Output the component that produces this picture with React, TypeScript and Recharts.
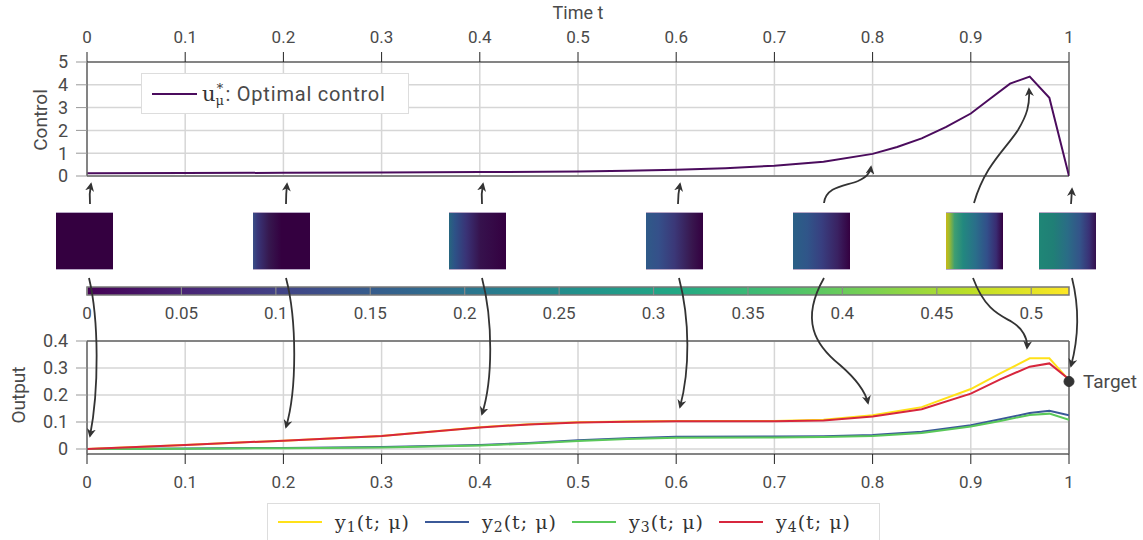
import {
    LineChart,
    Line,
    XAxis,
    YAxis,
    CartesianGrid,
    ReferenceLine,
    ReferenceDot,
    ReferenceArea,
} from 'recharts';

// top panel: optimal control u*(t)
const controlT = [0, 0.1, 0.2, 0.3, 0.4, 0.5, 0.55, 0.6, 0.65, 0.7, 0.75, 0.8, 0.825, 0.85, 0.875, 0.9, 0.92, 0.94, 0.96, 0.98, 1];
const controlU = [0.12, 0.13, 0.14, 0.15, 0.17, 0.2, 0.23, 0.27, 0.34, 0.45, 0.63, 0.97, 1.27, 1.65, 2.15, 2.74, 3.4, 4.05, 4.36, 3.43, 0];

// bottom panel: outputs y1..y4
const outputT = [0, 0.1, 0.2, 0.3, 0.4, 0.45, 0.5, 0.55, 0.6, 0.7, 0.75, 0.8, 0.85, 0.9, 0.93, 0.96, 0.98, 1];
const y1 = [0, 0.015, 0.031, 0.048, 0.081, 0.092, 0.099, 0.102, 0.104, 0.104, 0.108, 0.125, 0.155, 0.222, 0.28, 0.336, 0.336, 0.255];
const y2 = [0, 0.002, 0.004, 0.007, 0.015, 0.022, 0.032, 0.04, 0.045, 0.046, 0.047, 0.052, 0.064, 0.088, 0.11, 0.133, 0.142, 0.125];
const y3 = [0, 0.001, 0.003, 0.006, 0.013, 0.02, 0.03, 0.037, 0.042, 0.043, 0.044, 0.048, 0.059, 0.083, 0.104, 0.126, 0.131, 0.108];
const y4 = [0, 0.015, 0.031, 0.048, 0.08, 0.091, 0.098, 0.101, 0.103, 0.103, 0.106, 0.12, 0.147, 0.205, 0.258, 0.305, 0.317, 0.258];
const target = { t: 1, value: 0.25 };

const timeTicks = [0, 0.1, 0.2, 0.3, 0.4, 0.5, 0.6, 0.7, 0.8, 0.9, 1];
const controlTicks = [0, 1, 2, 3, 4, 5];
const outputTicks = [0, 0.1, 0.2, 0.3, 0.4];
const colorTicks = [0, 0.05, 0.1, 0.15, 0.2, 0.25, 0.3, 0.35, 0.4, 0.45, 0.5];
const colorMax = 0.52;

const viridis = ['#440154', '#482475', '#414487', '#355f8d', '#2a788e', '#21918c', '#22a884', '#44bf70', '#7ad151', '#bddf26', '#fde725'];

// snapshots of the state at selected times (left -> right shading)
const snapshots = [
    { t: 0, left: 56, bg: '#340040' },
    { t: 0.2, left: 253, bg: 'linear-gradient(90deg, #3a4f88 0%, #393578 8%, #36184f 28%, #340040 50%, #340040 100%)' },
    { t: 0.4, left: 449, bg: 'linear-gradient(90deg, #27667f 0%, #2d5287 10%, #393376 30%, #36124d 55%, #340040 100%)' },
    { t: 0.6, left: 646, bg: 'linear-gradient(90deg, #2f5a88 0%, #35508a 22%, #3b3878 50%, #38174f 80%, #340040 100%)' },
    { t: 0.8, left: 793, bg: 'linear-gradient(90deg, #2a6086 0%, #305589 25%, #383f80 50%, #3a2262 78%, #340040 100%)' },
    { t: 0.96, left: 946, bg: 'linear-gradient(90deg, #c8b81a 0%, #a4bb2c 5%, #3e9e72 15%, #22887f 30%, #2a6e8a 52%, #324f8a 72%, #392c72 88%, #340040 100%)' },
    { t: 1, left: 1039, bg: 'linear-gradient(90deg, #1f8676 0%, #207f76 25%, #2a6c86 50%, #345389 72%, #393176 88%, #340f4c 100%)' },
];

const upArrows = [
    'M90,204 Q89,194 91,184',
    'M286,204 Q286,194 287,184',
    'M482,204 Q481,194 483,184',
    'M678,204 Q678,194 680,184',
    'M824,203 C826,186 846,186 858,181 C866,177 870,174 871,167',
    'M974,203 C985,165 1005,150 1018,130 C1027,115 1030,105 1029,89',
    'M1071,204 L1072,189',
];
const downArrows = [
    'M89,278 C99,320 99,390 90,436',
    'M286,278 C297,320 297,390 286,427',
    'M482,278 C493,320 493,380 482,414',
    'M679,278 C690,320 690,370 680,407',
    'M824,278 C800,320 815,345 840,365 C855,378 865,390 868,403',
    'M973,278 C985,310 1000,315 1012,322 C1022,328 1028,338 1027,348',
    'M1072,278 C1080,310 1078,340 1071,366',
];

const controlData = controlT.map((t, i) => ({ t, u: controlU[i] }));
const outputData = outputT.map((t, i) => ({ t, y1: y1[i], y2: y2[i], y3: y3[i], y4: y4[i] }));
const colorData = [{ c: 0, v: 0 }, { c: colorMax, v: 1 }];

const sans = 'Roboto, "Noto Sans", sans-serif';
const serif = '"DejaVu Serif", "Liberation Serif", serif';
const fmt = (v: number) => String(+v.toFixed(2));
const tickStyle = { fontSize: 17, fill: '#4a4a4a', fontFamily: sans };
const axisLine = { stroke: '#666', strokeWidth: 1.5 };
const gridColor = '#d6d6d6';

const series = [
    { key: 'y1', color: '#ffe119', sub: '1' },
    { key: 'y2', color: '#3b5998', sub: '2' },
    { key: 'y3', color: '#5ac85a', sub: '3' },
    { key: 'y4', color: '#d7263d', sub: '4' },
];

function MathY({ sub }: { sub: string }) {
    return (
        <span style={{ fontFamily: serif, fontSize: 19, color: '#333', letterSpacing: 1 }}>
            y<span style={{ fontSize: 14, position: 'relative', top: 3 }}>{sub}</span>(t; μ)
        </span>
    );
}

export default function App() {
    return (
        <div style={{ position: 'absolute', left: 0, top: 0, width: 1143, height: 540, overflow: 'hidden', background: '#fff', fontFamily: sans }}>
            {/* titles */}
            <div style={{ position: 'absolute', left: 518, top: 2, width: 120, textAlign: 'center', fontSize: 18, color: '#4a4a4a' }}>Time t</div>
            <div style={{ position: 'absolute', left: 40, top: 120, transform: 'translate(-50%, -50%) rotate(-90deg)', fontSize: 19, color: '#4a4a4a' }}>Control</div>
            <div style={{ position: 'absolute', left: 18, top: 395, transform: 'translate(-50%, -50%) rotate(-90deg)', fontSize: 19, color: '#4a4a4a' }}>Output</div>

            <div style={{ position: 'absolute', left: 0, top: 0 }}>
                <LineChart width={1143} height={190} data={controlData} margin={{ top: 22, right: 74, bottom: 14, left: 32 }}>
                    <CartesianGrid stroke={gridColor} strokeWidth={1.5} />
                    <XAxis
                        dataKey="t"
                        type="number"
                        domain={[0, 1]}
                        ticks={timeTicks}
                        interval={0}
                        orientation="top"
                        height={40}
                        tickSize={10}
                        tickMargin={9}
                        tick={tickStyle}
                        tickLine={{ stroke: '#222' }}
                        axisLine={axisLine}
                        tickFormatter={fmt}
                        allowDataOverflow
                    />
                    <YAxis
                        type="number"
                        domain={[0, 5]}
                        ticks={controlTicks}
                        interval={0}
                        width={55}
                        tickSize={11}
                        tickMargin={8}
                        tick={{ ...tickStyle, fontSize: 18 }}
                        tickLine={{ stroke: '#999' }}
                        axisLine={axisLine}
                        allowDataOverflow
                    />
                    <ReferenceLine y={0} stroke="#666" strokeWidth={1.5} />
                    <ReferenceLine x={1} stroke="#666" strokeWidth={1.5} />
                    <Line type="linear" dataKey="u" stroke="#4b0c5d" strokeWidth={2} dot={false} isAnimationActive={false} />
                </LineChart>
            </div>

            {/* control legend */}
            <div style={{ position: 'absolute', left: 141, top: 73, width: 266, height: 39, border: '1.5px solid #ddd', background: '#fff', display: 'flex', alignItems: 'center' }}>
                <div style={{ width: 45, height: 2, background: '#4b0c5d', marginLeft: 10, marginRight: 5 }} />
                <span style={{ fontFamily: serif, fontSize: 21, color: '#333' }}>u</span>
                <span style={{ display: 'inline-flex', flexDirection: 'column', fontFamily: serif, fontSize: 13, lineHeight: '10px', color: '#333', marginRight: 1 }}>
                    <span>∗</span>
                    <span style={{ marginTop: 5 }}>μ</span>
                </span>
                <span style={{ fontSize: 20, color: '#4a4a4a', letterSpacing: 0.8 }}>: Optimal control</span>
            </div>

            {/* state snapshots */}
            {snapshots.map((s) => (
                <div
                    key={s.t}
                    style={{
                        position: 'absolute',
                        left: s.left,
                        top: 212,
                        width: 57,
                        height: 56,
                        background: s.bg,
                        borderTop: '1px solid #b8a8c6',
                        borderBottom: '1px solid #b8a8c6',
                    }}
                />
            ))}

            {/* colorbar */}
            <div style={{ position: 'absolute', left: 0, top: 280 }}>
                <LineChart width={1143} height={45} data={colorData} margin={{ top: 7, right: 74, bottom: 0, left: 87 }}>
                    <defs>
                        <linearGradient id="viridis" x1="0" y1="0" x2="1" y2="0">
                            {viridis.map((c, i) => (
                                <stop key={c} offset={`${(i / (viridis.length - 1)) * 100}%`} stopColor={c} />
                            ))}
                        </linearGradient>
                    </defs>
                    <XAxis
                        dataKey="c"
                        type="number"
                        domain={[0, colorMax]}
                        ticks={colorTicks}
                        interval={0}
                        height={30}
                        tickLine={false}
                        axisLine={false}
                        tickMargin={6}
                        tick={tickStyle}
                        tickFormatter={fmt}
                        allowDataOverflow
                    />
                    <YAxis hide type="number" domain={[0, 1]} allowDataOverflow />
                    <Line dataKey="v" stroke="none" dot={false} isAnimationActive={false} />
                    <ReferenceArea x1={0} x2={colorMax} y1={0} y2={1} fill="url(#viridis)" fillOpacity={1} stroke="#777" strokeWidth={1.5} ifOverflow="visible" />
                    {colorTicks.map((c) => (
                        <ReferenceLine key={c} x={c} stroke="#888" strokeWidth={1.2} ifOverflow="visible" />
                    ))}
                </LineChart>
            </div>

            <div style={{ position: 'absolute', left: 0, top: 320 }}>
                <LineChart width={1143} height={180} data={outputData} margin={{ top: 21, right: 74, bottom: 6, left: 32 }}>
                    <CartesianGrid stroke={gridColor} strokeWidth={1.5} />
                    <XAxis
                        dataKey="t"
                        type="number"
                        domain={[0, 1]}
                        ticks={timeTicks}
                        interval={0}
                        height={40}
                        tickSize={10}
                        tickMargin={12}
                        tick={tickStyle}
                        tickLine={{ stroke: '#222' }}
                        axisLine={axisLine}
                        tickFormatter={fmt}
                        allowDataOverflow
                    />
                    <YAxis
                        type="number"
                        domain={[-0.0185, 0.4]}
                        ticks={outputTicks}
                        interval={0}
                        width={55}
                        tickSize={11}
                        tickMargin={8}
                        tick={{ ...tickStyle, fontSize: 18 }}
                        tickLine={{ stroke: '#999' }}
                        axisLine={axisLine}
                        tickFormatter={fmt}
                        allowDataOverflow
                    />
                    <ReferenceLine y={0.4} stroke="#666" strokeWidth={1.5} />
                    <ReferenceLine x={1} stroke="#666" strokeWidth={1.5} />
                    {series.map((s) => (
                        <Line key={s.key} type="linear" dataKey={s.key} stroke={s.color} strokeWidth={2} dot={false} isAnimationActive={false} />
                    ))}
                    <ReferenceDot
                        x={target.t}
                        y={target.value}
                        r={5}
                        fill="#333"
                        stroke="#333"
                        ifOverflow="visible"
                        label={{ value: 'Target', position: 'right', offset: 9, fill: '#4a4a4a', fontSize: 19, fontFamily: sans }}
                    />
                </LineChart>
            </div>

            {/* output legend */}
            <div style={{ position: 'absolute', left: 267, top: 503, width: 611, height: 50, border: '1.5px solid #ddd', background: '#fff' }}>
                {series.map((s, i) => (
                    <div key={s.key} style={{ position: 'absolute', left: 10 + i * 147, top: 0, height: 36, display: 'flex', alignItems: 'center' }}>
                        <div style={{ width: 44, height: 2, background: s.color, marginRight: 13 }} />
                        <MathY sub={s.sub} />
                    </div>
                ))}
            </div>

            {/* arrows linking snapshots to both panels */}
            <svg width={1143} height={540} style={{ position: 'absolute', left: 0, top: 0, pointerEvents: 'none' }}>
                <defs>
                    <marker id="head" viewBox="0 0 10 10" refX="8" refY="5" markerWidth="9" markerHeight="9" markerUnits="userSpaceOnUse" orient="auto">
                        <path d="M0,0 L10,5 L0,10 L3,5 z" fill="#333" />
                    </marker>
                </defs>
                {[...upArrows, ...downArrows].map((d, i) => (
                    <path key={i} d={d} fill="none" stroke="#333" strokeWidth={1.8} markerEnd="url(#head)" />
                ))}
            </svg>
        </div>
    );
}
